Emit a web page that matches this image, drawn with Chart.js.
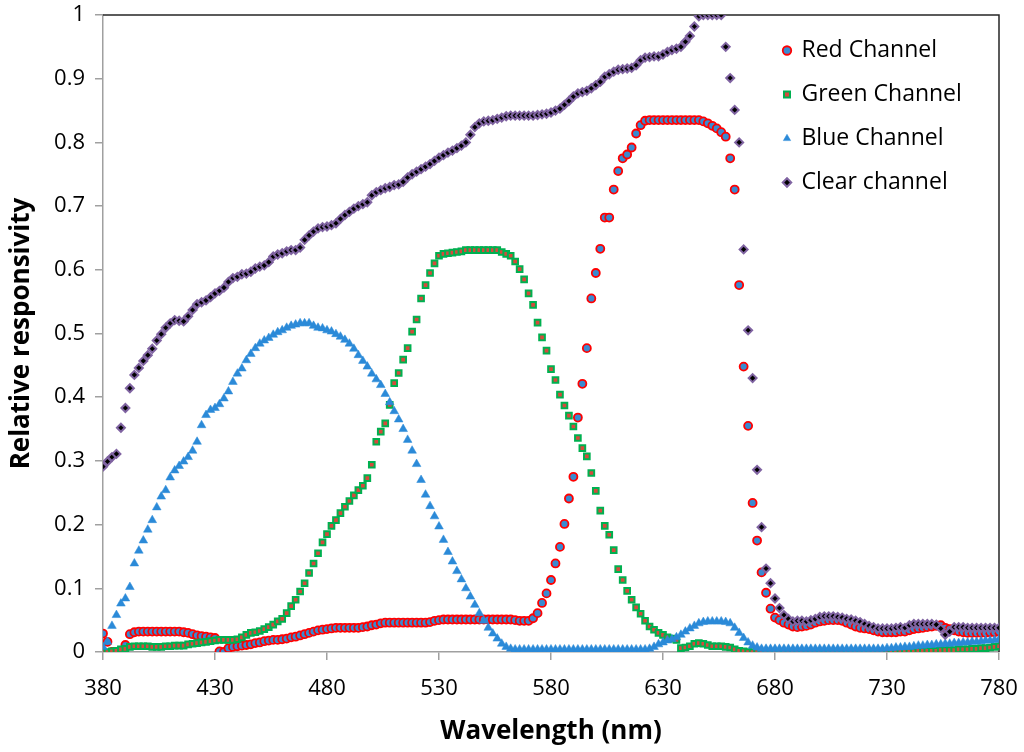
<!DOCTYPE html>
<html>
<head>
<meta charset="utf-8">
<script src="https://cdn.jsdelivr.net/npm/chart.js@4.4.1/dist/chart.umd.min.js"></script>
<style>
html,body{margin:0;padding:0;background:#fff;}
#wrap{position:relative;width:1024px;height:752px;}
</style>
</head>
<body>
<div id="wrap"><canvas id="c" width="1024" height="752"></canvas></div>
<script>
// Wavelength samples (nm)
const wavelengths = [
  380,382,384,386,388,390,392,394,396,398,
  400,402,404,406,408,410,412,414,416,418,
  420,422,424,426,428,430,432,434,436,438,
  440,442,444,446,448,450,452,454,456,458,
  460,462,464,466,468,470,472,474,476,478,
  480,482,484,486,488,490,492,494,496,498,
  500,502,504,506,508,510,512,514,516,518,
  520,522,524,526,528,530,532,534,536,538,
  540,542,544,546,548,550,552,554,556,558,
  560,562,564,566,568,570,572,574,576,578,
  580,582,584,586,588,590,592,594,596,598,
  600,602,604,606,608,610,612,614,616,618,
  620,622,624,626,628,630,632,634,636,638,
  640,642,644,646,648,650,652,654,656,658,
  660,662,664,666,668,670,672,674,676,678,
  680,682,684,686,688,690,692,694,696,698,
  700,702,704,706,708,710,712,714,716,718,
  720,722,724,726,728,730,732,734,736,738,
  740,742,744,746,748,750,752,754,756,758,
  760,762,764,766,768,770,772,774,776,778,
  780
];

const redChannel = [
  0.029,0.016,0.000,0.000,0.001,0.011,0.028,0.031,0.032,0.032,
  0.032,0.032,0.032,0.032,0.032,0.032,0.032,0.032,0.031,0.030,
  0.028,0.026,0.025,0.024,0.023,0.022,0.001,0.000,0.006,0.008,
  0.009,0.010,0.011,0.012,0.014,0.015,0.017,0.018,0.019,0.019,
  0.020,0.021,0.023,0.024,0.026,0.028,0.030,0.032,0.034,0.035,
  0.036,0.037,0.038,0.038,0.038,0.038,0.038,0.038,0.039,0.040,
  0.042,0.043,0.045,0.046,0.046,0.046,0.046,0.046,0.046,0.046,
  0.046,0.046,0.046,0.047,0.049,0.050,0.051,0.051,0.051,0.051,
  0.051,0.051,0.051,0.051,0.051,0.051,0.051,0.051,0.051,0.051,
  0.051,0.051,0.050,0.049,0.049,0.049,0.053,0.061,0.077,0.092,
  0.113,0.139,0.165,0.201,0.241,0.275,0.368,0.421,0.477,0.555,
  0.595,0.633,0.682,0.682,0.726,0.755,0.775,0.781,0.792,0.814,
  0.827,0.834,0.835,0.835,0.835,0.835,0.835,0.835,0.835,0.835,
  0.835,0.835,0.835,0.835,0.833,0.830,0.826,0.822,0.816,0.809,
  0.775,0.726,0.576,0.448,0.355,0.234,0.175,0.125,0.093,0.068,
  0.054,0.050,0.046,0.043,0.040,0.039,0.040,0.041,0.043,0.046,
  0.048,0.049,0.050,0.050,0.050,0.049,0.046,0.043,0.040,0.038,
  0.037,0.036,0.034,0.032,0.031,0.031,0.031,0.031,0.032,0.032,
  0.034,0.036,0.037,0.038,0.039,0.040,0.041,0.042,0.038,0.036,
  0.034,0.032,0.031,0.030,0.030,0.030,0.030,0.030,0.031,0.031,
  0.032
];

const greenChannel = [
  0.000,0.000,0.001,0.002,0.004,0.005,0.008,0.009,0.009,0.009,
  0.009,0.008,0.008,0.008,0.009,0.009,0.010,0.010,0.010,0.012,
  0.013,0.014,0.015,0.016,0.017,0.018,0.019,0.019,0.019,0.019,
  0.020,0.023,0.027,0.030,0.031,0.033,0.036,0.039,0.043,0.048,
  0.052,0.061,0.072,0.082,0.095,0.108,0.124,0.139,0.155,0.172,
  0.185,0.198,0.207,0.218,0.228,0.237,0.246,0.254,0.261,0.273,
  0.294,0.330,0.346,0.359,0.388,0.422,0.438,0.459,0.477,0.503,
  0.522,0.555,0.576,0.595,0.610,0.622,0.625,0.626,0.627,0.628,
  0.629,0.631,0.631,0.631,0.631,0.631,0.631,0.631,0.631,0.628,
  0.625,0.622,0.613,0.601,0.585,0.563,0.545,0.517,0.494,0.473,
  0.444,0.427,0.404,0.387,0.371,0.354,0.336,0.320,0.307,0.281,
  0.253,0.222,0.198,0.184,0.160,0.130,0.113,0.096,0.082,0.070,
  0.060,0.049,0.040,0.035,0.030,0.027,0.023,0.021,0.019,0.006,
  0.007,0.009,0.013,0.014,0.013,0.011,0.009,0.009,0.009,0.008,
  0.007,0.004,0.002,0.001,0.000,0.000,0.000,0.000,0.000,0.000,
  0.000,0.000,0.000,0.000,0.000,0.000,0.000,0.000,0.000,0.000,
  0.000,0.000,0.000,0.000,0.000,0.000,0.000,0.000,0.000,0.000,
  0.000,0.000,0.000,0.000,0.000,0.000,0.001,0.001,0.001,0.001,
  0.001,0.001,0.002,0.002,0.002,0.002,0.002,0.003,0.003,0.003,
  0.003,0.004,0.004,0.004,0.005,0.005,0.006,0.006,0.007,0.008,
  0.009
];

const blueChannel = [
  0.008,0.016,0.041,0.058,0.076,0.084,0.102,0.139,0.159,0.175,
  0.192,0.207,0.227,0.244,0.254,0.274,0.285,0.292,0.299,0.306,
  0.316,0.330,0.356,0.372,0.380,0.383,0.389,0.398,0.409,0.424,
  0.437,0.445,0.458,0.468,0.477,0.484,0.489,0.493,0.498,0.502,
  0.505,0.509,0.512,0.514,0.516,0.516,0.516,0.512,0.509,0.508,
  0.505,0.503,0.499,0.495,0.490,0.484,0.476,0.466,0.457,0.448,
  0.437,0.428,0.419,0.405,0.392,0.378,0.365,0.350,0.333,0.316,
  0.295,0.270,0.247,0.229,0.213,0.197,0.176,0.157,0.142,0.127,
  0.114,0.100,0.087,0.074,0.061,0.049,0.038,0.029,0.021,0.013,
  0.008,0.005,0.004,0.004,0.004,0.004,0.004,0.004,0.004,0.004,
  0.004,0.004,0.004,0.004,0.004,0.004,0.004,0.004,0.004,0.004,
  0.004,0.004,0.004,0.004,0.004,0.004,0.004,0.004,0.004,0.004,
  0.004,0.004,0.005,0.008,0.012,0.015,0.018,0.020,0.023,0.027,
  0.032,0.037,0.041,0.045,0.047,0.048,0.048,0.048,0.048,0.047,
  0.045,0.038,0.030,0.022,0.015,0.010,0.007,0.005,0.005,0.005,
  0.005,0.005,0.005,0.005,0.005,0.005,0.005,0.005,0.005,0.005,
  0.005,0.005,0.005,0.005,0.005,0.005,0.005,0.005,0.005,0.005,
  0.005,0.005,0.005,0.005,0.005,0.006,0.006,0.007,0.007,0.008,
  0.008,0.009,0.010,0.010,0.011,0.011,0.012,0.012,0.013,0.013,
  0.014,0.014,0.015,0.015,0.016,0.016,0.017,0.018,0.018,0.019,
  0.020
];

const clearChannel = [
  0.291,0.299,0.306,0.311,0.352,0.383,0.414,0.435,0.446,0.457,
  0.466,0.476,0.489,0.499,0.509,0.516,0.521,0.520,0.519,0.527,
  0.537,0.546,0.549,0.552,0.557,0.563,0.567,0.572,0.581,0.587,
  0.589,0.593,0.594,0.597,0.602,0.605,0.607,0.612,0.621,0.624,
  0.626,0.629,0.631,0.631,0.635,0.647,0.654,0.660,0.665,0.667,
  0.668,0.670,0.673,0.680,0.686,0.691,0.696,0.700,0.703,0.706,
  0.717,0.722,0.725,0.728,0.730,0.733,0.734,0.738,0.745,0.750,
  0.754,0.758,0.762,0.766,0.771,0.776,0.780,0.784,0.787,0.791,
  0.795,0.800,0.812,0.824,0.830,0.833,0.834,0.835,0.837,0.839,
  0.841,0.842,0.842,0.842,0.842,0.842,0.842,0.843,0.844,0.845,
  0.847,0.850,0.853,0.859,0.865,0.872,0.877,0.879,0.881,0.885,
  0.890,0.895,0.903,0.907,0.911,0.914,0.915,0.916,0.917,0.921,
  0.929,0.933,0.934,0.935,0.935,0.938,0.942,0.945,0.947,0.950,
  0.958,0.967,0.982,0.998,1.000,1.000,1.000,1.000,1.000,0.950,
  0.901,0.851,0.800,0.632,0.505,0.430,0.286,0.196,0.131,0.108,
  0.084,0.069,0.058,0.052,0.048,0.049,0.049,0.048,0.050,0.052,
  0.055,0.056,0.056,0.056,0.055,0.054,0.052,0.051,0.049,0.047,
  0.044,0.041,0.039,0.037,0.037,0.037,0.037,0.038,0.039,0.038,
  0.042,0.044,0.044,0.044,0.044,0.044,0.043,0.037,0.027,0.032,
  0.039,0.039,0.039,0.038,0.038,0.038,0.038,0.038,0.038,0.038,
  0.038
];

const seriesNames = ['Red Channel', 'Green Channel', 'Blue Channel', 'Clear channel'];
const xTickValues = [380, 430, 480, 530, 580, 630, 680, 730, 780];
const xTickLabels = ['380', '430', '480', '530', '580', '630', '680', '730', '780'];
const yTickValues = [0, 0.1, 0.2, 0.3, 0.4, 0.5, 0.6, 0.7, 0.8, 0.9, 1];
const yTickLabels = ['0', '0.1', '0.2', '0.3', '0.4', '0.5', '0.6', '0.7', '0.8', '0.9', '1'];

const toPoints = (vals) => vals.map((v, i) => ({ x: wavelengths[i], y: v }));

const FONT = "'Open Sans', 'Liberation Sans', sans-serif";

const framePlugin = {
  id: 'frame',
  beforeDatasetsDraw(chart) {
    const { ctx, chartArea: a } = chart;
    ctx.save();
    ctx.strokeStyle = '#262626';
    ctx.lineWidth = 1.5;
    ctx.beginPath();
    ctx.moveTo(a.left, a.top);
    ctx.lineTo(a.right, a.top);
    ctx.lineTo(a.right, a.bottom);
    ctx.stroke();
    ctx.restore();
  }
};

const legendPlace = {
  id: 'legendPlace',
  afterLayout(chart) {
    const l = chart.legend;
    if (!l) return;
    const w = l.width;
    l.left = 763;
    l.top = 18;
    l.right = l.left + w;
    l.bottom = chart.chartArea.bottom;
    l.height = l.bottom - l.top;
  }
};

new Chart(document.getElementById('c'), {
  type: 'scatter',
  data: {
    datasets: [
      {
        label: seriesNames[0],
        data: toPoints(redChannel),
        pointStyle: 'circle',
        pointRadius: 4,
        pointBorderWidth: 1.8,
        borderColor: '#ff0000',
        backgroundColor: '#3a8ad0',
        order: 4
      },
      {
        label: seriesNames[1],
        data: toPoints(greenChannel),
        pointStyle: 'rect',
        pointRadius: 4,
        pointBorderWidth: 2,
        borderColor: '#00b050',
        backgroundColor: '#d64a3c',
        order: 3
      },
      {
        label: seriesNames[2],
        data: toPoints(blueChannel),
        pointStyle: 'triangle',
        pointRadius: 5,
        pointBorderWidth: 0.5,
        borderColor: '#2b8ad8',
        backgroundColor: '#2b8ad8',
        order: 2
      },
      {
        label: seriesNames[3],
        data: toPoints(clearChannel),
        pointStyle: 'rectRot',
        pointRadius: 4,
        pointBorderWidth: 2,
        borderColor: '#8064a2',
        backgroundColor: '#000000',
        order: 1
      }
    ]
  },
  options: {
    responsive: false,
    animation: false,
    devicePixelRatio: 1,
    layout: { padding: { left: 0, right: 25, top: 15, bottom: 0 } },
    plugins: {
      tooltip: { enabled: false },
      legend: {
        position: 'chartArea',
        align: 'start',
        labels: {
          usePointStyle: true,
          boxWidth: 6,
          boxHeight: 6,
          padding: 21,
          color: '#000',
          font: { family: FONT, size: 23 },
          sort: (a, b) => a.datasetIndex - b.datasetIndex
        }
      }
    },
    scales: {
      x: {
        type: 'linear',
        min: 380,
        max: 780,
        afterBuildTicks: (scale) => { scale.ticks = xTickValues.map(v => ({ value: v })); },
        afterFit: (scale) => { scale.height = 100; scale.paddingLeft = 0; scale.paddingRight = 0; },
        ticks: {
          color: '#000',
          font: { family: FONT, size: 22 },
          padding: 16,
          maxRotation: 0,
          autoSkip: false,
          callback: (v) => { const i = xTickValues.indexOf(v); return i >= 0 ? xTickLabels[i] : ''; }
        },
        grid: { display: true, drawOnChartArea: false, drawTicks: true, tickLength: 8, color: '#a0a0a0', lineWidth: 1.5 },
        border: { display: true, color: '#a0a0a0', width: 1.5 },
        title: {
          display: true,
          text: 'Wavelength (nm)',
          color: '#000',
          font: { family: FONT, size: 26, weight: 'bold' },
          padding: { top: 0, bottom: 5 }
        }
      },
      y: {
        type: 'linear',
        min: 0,
        max: 1,
        afterBuildTicks: (scale) => { scale.ticks = yTickValues.map(v => ({ value: v })); },
        afterFit: (scale) => { scale.width = 103; scale.paddingTop = 0; scale.paddingBottom = 0; },
        ticks: {
          color: '#000',
          font: { family: FONT, size: 22 },
          padding: 10,
          autoSkip: false,
          callback: (v) => { const i = yTickValues.findIndex(t => Math.abs(t - v) < 1e-9); return i >= 0 ? yTickLabels[i] : ''; }
        },
        grid: { display: true, drawOnChartArea: false, drawTicks: true, tickLength: 8, color: '#a0a0a0', lineWidth: 1.5 },
        border: { display: true, color: '#a0a0a0', width: 1.5 },
        title: {
          display: true,
          text: 'Relative responsivity',
          color: '#000',
          font: { family: FONT, size: 26, weight: 'bold' },
          padding: { top: 6, bottom: 0 }
        }
      }
    }
  },
  plugins: [framePlugin, legendPlace]
});
</script>
</body>
</html>
